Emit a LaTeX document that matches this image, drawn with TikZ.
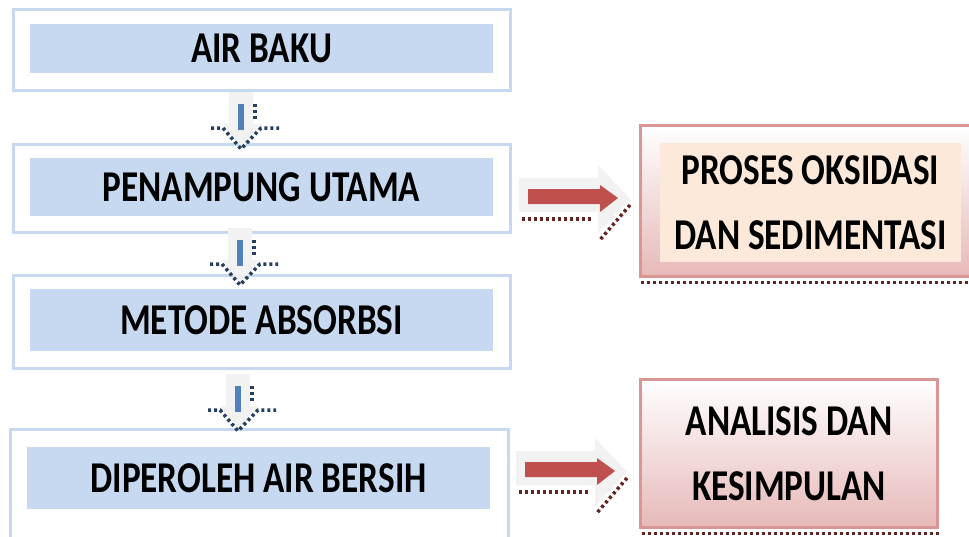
\documentclass[tikz,border=0pt]{standalone}
\usepackage{fontspec}
\setmainfont[FakeStretch=0.8]{Carlito}
\definecolor{boxblue}{HTML}{C6D9F1}
\definecolor{shaftblue}{HTML}{4F81BD}
\definecolor{dotblue}{HTML}{243F60}
\definecolor{arrowgray}{HTML}{F2F2F2}
\definecolor{shaftred}{HTML}{C0504D}
\definecolor{dotred}{HTML}{632523}
\definecolor{pinkline}{HTML}{D99694}
\definecolor{pinkfill}{HTML}{E6B9B8}
\definecolor{peach}{HTML}{FDE9D9}
\begin{document}
\begin{tikzpicture}[x=1pt,y=-1pt,
    every node/.style={inner sep=0,outer sep=0,align=center,font=\fontsize{44}{65}\selectfont\bfseries},
    frame/.style={draw=boxblue,line width=3pt},
    band/.style={fill=boxblue},
    pinkbox/.style={draw=pinkline,line width=3pt,top color=white,bottom color=pinkfill},
    dots/.style={line width=3.5pt,dash pattern=on 3pt off 3pt},
    downarrow/.pic={
        \fill[arrowgray] (-12,0) -- (12,0) -- (12,32) -- (21,32) -- (1,56) -- (-19,32) -- (-12,32) -- cycle;
        \fill[shaftblue] (-3,12) rectangle (3,38);
        \draw[dotblue,dots] (-30,36) -- (-18,36) -- (0,57) -- (20,36) -- (38,36);
        \draw[dotblue,dots] (14,12) -- (14,30);
    },
    rightarrow/.pic={
        \fill[arrowgray] (0,-17) -- (79,-17) -- (79,-30) -- (111,4) -- (79,38) -- (79,17) -- (0,17) -- cycle;
        \fill[shaftred] (9,-6) -- (81,-6) -- (81,-10) -- (99,3) -- (81,17) -- (81,9) -- (9,9) -- cycle;
        \draw[dotred,dots] (3,24) -- (73,24);
        \draw[dotred,dots] (111,10) -- (80,46);
    }]
\useasboundingbox (0,0) rectangle (969,536);
% left column
\node[frame,minimum width=497,minimum height=81] (air) at (262,50) {};
\node[band,minimum width=463,minimum height=49] (airtxt) at (261.5,48.5) {AIR BAKU};
\node[frame,minimum width=497,minimum height=88] (tampung) at (262,188.5) {};
\node[band,minimum width=463,minimum height=58] (tampungtxt) at (261.5,187) {PENAMPUNG UTAMA};
\node[frame,minimum width=497,minimum height=93] (absorbsi) at (262,322) {};
\node[band,minimum width=463,minimum height=62] (absorbsitxt) at (261.5,320) {METODE ABSORBSI};
\node[frame,minimum width=498,minimum height=130] (bersih) at (259.5,494.5) {};
\node[band,minimum width=463,minimum height=62] (bersihtxt) at (258.5,478) {DIPEROLEH AIR BERSIH};
% right column
\node[pinkbox,minimum width=340,minimum height=151] (oksidasi) at (810,201) {};
\node[fill=peach,minimum width=301,minimum height=119] (oksidasitxt) at (810.5,202.5) {PROSES OKSIDASI\\DAN SEDIMENTASI};
\node[pinkbox,minimum width=297,minimum height=148] (analisis) at (789,453.5) {ANALISIS DAN\\KESIMPULAN};
\draw[dotred,dots] (oksidasi.south west) ++(1,6) -- ++(330,0);
\draw[dotred,dots] (analisis.south west) ++(1,6) -- ++(297,0);
% arrows
\pic at (241,92) {downarrow};
\pic at (240,228) {downarrow};
\pic at (238,374) {downarrow};
\pic at (519,195) {rightarrow};
\pic at (516,468) {rightarrow};
\end{tikzpicture}
\end{document}
